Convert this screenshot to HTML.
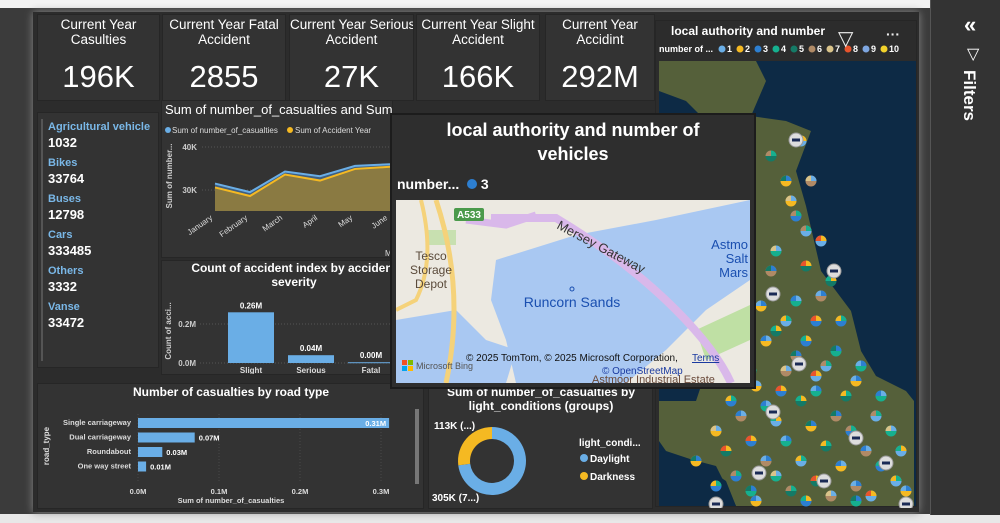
<!DOCTYPE html>
<html><head><meta charset="utf-8"><style>
*{box-sizing:border-box;margin:0;padding:0}
body{width:1000px;height:523px;overflow:hidden;background:#3b3b3b;font-family:"Liberation Sans",sans-serif;color:#fff;position:relative}
.abs{position:absolute}
.card{position:absolute;background:#333;border:1px solid #262626}
.kt{position:absolute;left:0;right:0;top:2px;text-align:center;font-size:13.5px;line-height:15px;color:#fff}
.kv{position:absolute;left:0;right:0;top:44px;text-align:center;font-size:31px;color:#fff}
.lbl{font-weight:bold;font-size:11px;color:#7ab8e8}
.val{font-weight:bold;font-size:13px;color:#fff;margin-bottom:6px}
</style></head><body>
<div class="abs" style="left:0;top:0;width:1000px;height:8px;background:#f2f2f2"></div>
<div class="abs" style="left:0;top:514px;width:1000px;height:9px;background:#e8e8e8"></div>
<div class="abs" style="left:33px;top:12px;width:886px;height:500px;background:#2c2c2c;box-shadow:0 0 8px #888"></div>
<div class="abs" style="left:930px;top:0;width:70px;height:515px;background:#333;border-left:1px solid #555">
  <div class="abs" style="left:33px;top:12px;font-size:22px;font-weight:bold">«</div>
  <div class="abs" style="left:36px;top:44px;font-size:16px">▽</div>
  <div class="abs" style="left:28px;top:70px;writing-mode:vertical-rl;font-size:17px;font-weight:bold">Filters</div>
</div>
<div class="card" style="left:37px;top:14px;width:123px;height:87px"><div class="kt">Current Year<br>Casulties</div><div class="kv">196K</div></div>
<div class="card" style="left:162px;top:14px;width:124px;height:87px"><div class="kt">Current Year Fatal<br>Accident</div><div class="kv">2855</div></div>
<div class="card" style="left:289px;top:14px;width:125px;height:87px;overflow:hidden"><div class="kt" style="white-space:nowrap">Current Year Serious<br>Accident</div><div class="kv">27K</div></div>
<div class="card" style="left:416px;top:14px;width:124px;height:87px"><div class="kt">Current Year Slight<br>Accident</div><div class="kv">166K</div></div>
<div class="card" style="left:545px;top:14px;width:110px;height:87px"><div class="kt">Current Year<br>Accidint</div><div class="kv">292M</div></div>
<div class="card" style="left:37px;top:112px;width:122px;height:256px">
 <div class="abs" style="left:3px;top:6px;width:2px;height:242px;background:#555"></div>
 <div class="abs" style="left:10px;top:7px;line-height:15px">
  <div class="lbl">Agricultural vehicle</div><div class="val">1032</div>
  <div class="lbl">Bikes</div><div class="val">33764</div>
  <div class="lbl">Buses</div><div class="val">12798</div>
  <div class="lbl">Cars</div><div class="val">333485</div>
  <div class="lbl">Others</div><div class="val">3332</div>
  <div class="lbl">Vanse</div><div class="val">33472</div>
 </div>
</div>
<div class="card" style="left:161px;top:100px;width:232px;height:158px;overflow:hidden">
 <svg width="232" height="158" id="areaSvg"></svg>
</div>
<div class="card" style="left:161px;top:260px;width:232px;height:115px;overflow:hidden">
 <svg width="232" height="115" id="sevSvg"></svg>
</div>
<div class="card" style="left:37px;top:383px;width:387px;height:126px">
 <svg width="387" height="126" id="roadSvg"></svg>
</div>
<div class="card" style="left:428px;top:383px;width:225px;height:126px">
 <svg width="225" height="126" id="donutSvg"></svg>
</div>
<div class="card" style="left:655px;top:20px;width:262px;height:487px;background:#2c2c2c">
 <svg width="262" height="487" id="mapSvg"></svg>
</div>
<div class="abs" style="left:390px;top:113px;width:366px;height:276px;background:#2e2e2e;border:2px solid #1c1c1c">
 <div class="abs" style="left:0;right:0;top:3px;text-align:center;font-weight:bold;font-size:18px;line-height:24px">local authority and number of<br>vehicles</div>
 <div class="abs" style="left:5px;top:61px;font-weight:bold;font-size:14px">number...&nbsp; <span style="display:inline-block;width:10px;height:10px;border-radius:50%;background:#2d7fd1"></span> 3</div>
 <svg class="abs" style="left:4px;top:85px" width="354" height="183">
  <rect width="354" height="183" fill="#ece9e1"/>
  <path d="M0,120 L60,110 L90,140 L120,150 L110,183 L0,183Z" fill="#a9c8f2"/>
  <path d="M100,60 L180,35 L260,20 L354,0 L354,80 L310,110 L270,150 L230,183 L120,183 L110,140 L95,100Z" fill="#a9c8f2"/>
  <path d="M300,130 L354,105 L354,140 L310,160Z" fill="#bfe0a4"/>
  <path d="M30,30 L60,30 L60,45 L30,45Z" fill="#c8e0b0"/>
  <path d="M25,0 Q40,60 20,100 L0,110" stroke="#f5d27a" stroke-width="4" fill="none"/>
  <path d="M40,0 Q70,90 50,183" stroke="#f5d27a" stroke-width="5" fill="none"/>
  <path d="M70,20 L110,25 L140,15" stroke="#d9b8ea" stroke-width="7" fill="none"/>
  <path d="M95,18 L160,18 Q230,60 280,110 Q320,150 335,183" stroke="#d9b8ea" stroke-width="8" fill="none"/>
  <rect x="58" y="8" width="30" height="13" rx="2" fill="#4b9a4b"/>
  <text x="73" y="18" font-size="10" fill="#fff" text-anchor="middle" font-weight="bold">A533</text>
  <text x="160" y="28" font-size="13" fill="#333" transform="rotate(28 160 28)">Mersey Gateway</text>
  <text x="35" y="60" font-size="12" fill="#5a4a3a" text-anchor="middle">Tesco</text>
  <text x="35" y="74" font-size="12" fill="#5a4a3a" text-anchor="middle">Storage</text>
  <text x="35" y="88" font-size="12" fill="#5a4a3a" text-anchor="middle">Depot</text>
  <text x="176" y="107" font-size="14" fill="#1a4fb0" text-anchor="middle">Runcorn Sands</text>
  <circle cx="176" cy="89" r="2" fill="none" stroke="#1a4fb0"/>
  <text x="352" y="49" font-size="13" fill="#1a4fb0" text-anchor="end">Astmo</text>
  <text x="352" y="63" font-size="13" fill="#1a4fb0" text-anchor="end">Salt</text>
  <text x="352" y="77" font-size="13" fill="#1a4fb0" text-anchor="end">Mars</text>
  <text x="70" y="161" font-size="10" fill="#111">© 2025 TomTom, © 2025 Microsoft Corporation,</text>
  <text x="296" y="161" font-size="10" fill="#1a3aa0" text-decoration="underline">Terms</text>
  <text x="206" y="174" font-size="10" fill="#1a3aa0">© OpenStreetMap</text>
  <text x="196" y="183" font-size="11" fill="#6a4a3a">Astmoor Industrial Estate</text>
  <rect x="6" y="160" width="5" height="5" fill="#f25022"/><rect x="12" y="160" width="5" height="5" fill="#7fba00"/>
  <rect x="6" y="166" width="5" height="5" fill="#00a4ef"/><rect x="12" y="166" width="5" height="5" fill="#ffb900"/>
  <text x="20" y="169" font-size="9" fill="#555">Microsoft Bing</text>
 </svg>
</div>
<script>
const NS="http://www.w3.org/2000/svg";
function mk(p,t,a,txt){const e=document.createElementNS(NS,t);for(const k in a)e.setAttribute(k,a[k]);if(txt!==undefined)e.textContent=txt;p.appendChild(e);return e;}
const months=["January","February","March","April","May","June"];
const casualties=[31.5,29.5,34.3,33.2,35.6,36.0];
const accidentYear=[30.6,28.6,33.6,32.2,34.9,35.4];
const areaTicks=[30,40];
const severities=["Slight","Serious","Fatal"];
const severityCounts=[0.26,0.04,0.004];
const severityLabels=["0.26M","0.04M","0.00M"];
const sevTicks=[0,0.2];
const roadTypes=["Single carriageway","Dual carriageway","Roundabout","One way street"];
const roadValues=[0.31,0.07,0.03,0.01];
const roadLabels=["0.31M","0.07M","0.03M","0.01M"];
const roadTicks=[0,0.1,0.2,0.3];
const lightGroups=["Daylight","Darkness"];
const lightValues=[305,113];
const lightColors=["#6aaee6","#f5b922"];

(function(){
 const s=document.getElementById("areaSvg");
 mk(s,"text",{x:3,y:13,"font-size":13,fill:"#fff",},"Sum of number_of_casualties and Sum of Accident Year by Month Name");
 mk(s,"circle",{cx:6,cy:29,r:3,fill:"#6aaee6"});mk(s,"text",{x:10,y:32,"font-size":8,fill:"#ddd"},"Sum of number_of_casualties");
 mk(s,"circle",{cx:128,cy:29,r:3,fill:"#f5b922"});mk(s,"text",{x:133,y:32,"font-size":8,fill:"#ddd"},"Sum of Accident Year");
 const x=i=>53+i*35, y=v=>89-(v-30)*4.3;
 const base=110;
 areaTicks.forEach(t=>{mk(s,"line",{x1:40,x2:232,y1:y(t),y2:y(t),stroke:"#555","stroke-dasharray":"1 2"});
  mk(s,"text",{x:35,y:y(t)+3,"font-size":8,"font-weight":"bold",fill:"#ccc","text-anchor":"end"},t+"K");});
 let d1="M"+x(0)+","+base+casualties.map((v,i)=>" L"+x(i)+","+y(v)).join("")+" L"+x(5)+","+base+"Z";
 const a1=mk(s,"path",{d:d1,fill:"#3f5f80"});
 let d2="M"+x(0)+","+base+accidentYear.map((v,i)=>" L"+x(i)+","+y(v)).join("")+" L"+x(5)+","+base+"Z";
 const a2=mk(s,"path",{d:d2,fill:"#8a7a42"});
 mk(s,"polyline",{points:casualties.map((v,i)=>x(i)+","+y(v)).join(" "),fill:"none",stroke:"#6aaee6","stroke-width":2});
 mk(s,"polyline",{points:accidentYear.map((v,i)=>x(i)+","+y(v)).join(" "),fill:"none",stroke:"#f5b922","stroke-width":2});
 mk(s,"text",{x:10,y:75,"font-size":8,"font-weight":"bold",fill:"#ccc",transform:"rotate(-90 10 75)","text-anchor":"middle"},"Sum of number...");
 months.forEach((m,i)=>{const px=x(i)-2;const t=mk(s,"text",{x:px,y:118,"font-size":8,fill:"#ddd","text-anchor":"end",transform:"rotate(-35 "+px+" 118)"},m);});
 mk(s,"text",{x:223,y:155,"font-size":8,fill:"#ddd"},"M");
})();
(function(){
 const s=document.getElementById("sevSvg");
 mk(s,"text",{x:132,y:11,"font-size":12,"font-weight":"bold",fill:"#fff","text-anchor":"middle"},"Count of accident index by accident");
 mk(s,"text",{x:132,y:25,"font-size":12,"font-weight":"bold",fill:"#fff","text-anchor":"middle"},"severity");
 const y=v=>102-v*195, base=102;
 sevTicks.forEach(t=>{mk(s,"text",{x:34,y:y(t)+3,"font-size":8,"font-weight":"bold",fill:"#ccc","text-anchor":"end"},t.toFixed(1)+"M");
  mk(s,"line",{x1:38,x2:232,y1:y(t),y2:y(t),stroke:"#555","stroke-dasharray":"1 2"});});
 mk(s,"text",{x:9,y:70,"font-size":8,"font-weight":"bold",fill:"#ccc",transform:"rotate(-90 9 70)","text-anchor":"middle"},"Count of acci...");
 severities.forEach((c,i)=>{const cx=89+i*60;
  const r=mk(s,"rect",{x:cx-23,y:y(severityCounts[i]),width:46,height:Math.max(1,base-y(severityCounts[i])),fill:"#6aaee6"});
  
  mk(s,"text",{x:cx,y:y(severityCounts[i])-4,"font-size":8,"font-weight":"bold",fill:"#fff","text-anchor":"middle"},severityLabels[i]);
  mk(s,"text",{x:cx,y:112,"font-size":8,"font-weight":"bold",fill:"#ddd","text-anchor":"middle"},c);});
})();
(function(){
 const s=document.getElementById("roadSvg");
 mk(s,"text",{x:193,y:12,"font-size":12,"font-weight":"bold",fill:"#fff","text-anchor":"middle"},"Number of casualties by road type");
 const x=v=>100+v*810, y0=34;
 roadTicks.forEach(t=>{mk(s,"text",{x:x(t),y:110,"font-size":7.5,"font-weight":"bold",fill:"#ddd","text-anchor":"middle"},t.toFixed(1)+"M");
  mk(s,"line",{x1:x(t),x2:x(t),y1:30,y2:98,stroke:"#4a4a4a","stroke-dasharray":"1 2"});});
 mk(s,"text",{x:193,y:119,"font-size":7.5,"font-weight":"bold",fill:"#ddd","text-anchor":"middle"},"Sum of number_of_casualties");
 mk(s,"text",{x:11,y:62,"font-size":8,"font-weight":"bold",fill:"#ddd",transform:"rotate(-90 11 62)","text-anchor":"middle"},"road_type");
 roadTypes.forEach((r,i)=>{const yy=y0+i*14.5;
  mk(s,"text",{x:93,y:yy+7,"font-size":7.5,"font-weight":"bold",fill:"#ddd","text-anchor":"end"},r);
  const b=mk(s,"rect",{x:x(0),y:yy,width:x(roadValues[i])-x(0),height:10,fill:"#6aaee6"});
  
  const inside=i===0;
  mk(s,"text",{x:inside?x(roadValues[i])-3:x(roadValues[i])+4,y:yy+8,"font-size":7.5,"font-weight":"bold",fill:"#fff","text-anchor":inside?"end":"start"},roadLabels[i]);});
 mk(s,"rect",{x:377,y:25,width:4,height:75,fill:"#777"});
})();
(function(){
 const s=document.getElementById("donutSvg");
 mk(s,"text",{x:112,y:12,"font-size":12,"font-weight":"bold",fill:"#fff","text-anchor":"middle"},"Sum of number_of_casualties by");
 mk(s,"text",{x:112,y:26,"font-size":12,"font-weight":"bold",fill:"#fff","text-anchor":"middle"},"light_conditions (groups)");
 const cx=63,cy=77,R=34,r=22,tot=lightValues.reduce((a,b)=>a+b,0);
 let a=0;
 lightValues.forEach((v,i)=>{const a0=a,a1=a+v/tot*2*Math.PI;a=a1;
  const p=(ang,rad)=>[cx+rad*Math.sin(ang),cy-rad*Math.cos(ang)];
  const [x0,y0]=p(a0,R),[x1,y1]=p(a1,R),[x2,y2]=p(a1,r),[x3,y3]=p(a0,r);const lg=(a1-a0)>Math.PI?1:0;
  const e=mk(s,"path",{d:`M${x0},${y0} A${R},${R} 0 ${lg} 1 ${x1},${y1} L${x2},${y2} A${r},${r} 0 ${lg} 0 ${x3},${y3}Z`,fill:lightColors[i]});
  });
 mk(s,"text",{x:5,y:45,"font-size":10,"font-weight":"bold",fill:"#fff"},lightValues[1]+"K (...)");
 mk(s,"text",{x:3,y:117,"font-size":10,"font-weight":"bold",fill:"#fff"},lightValues[0]+"K (7...)");
 mk(s,"text",{x:150,y:62,"font-size":10,"font-weight":"bold",fill:"#fff"},"light_condi...");
 lightGroups.forEach((g,i)=>{mk(s,"circle",{cx:155,cy:74+i*18,r:4,fill:lightColors[i]});
  mk(s,"text",{x:161,y:78+i*18,"font-size":10,"font-weight":"bold",fill:"#fff"},g);});
})();
(function(){
 const s=document.getElementById("mapSvg");
 mk(s,"rect",{x:3,y:40,width:257,height:445,fill:"#0d2a45"});
 mk(s,"path",{d:"M3,40 L100,40 L110,60 L95,95 L130,100 L155,110 L140,150 L150,185 L165,250 L195,290 L205,330 L220,355 L250,370 L258,380 L258,485 L80,485 L70,460 L40,440 L10,430 L3,420 L3,380 L40,380 L50,350 L45,320 L20,300 L30,270 L60,240 L40,200 L60,170 L40,140 L60,110 L30,80 L3,70Z",fill:"#55603a"});
 mk(s,"path",{d:"M3,430 L60,445 L80,485 L3,485Z",fill:"#0d2a45"});
 mk(s,"text",{x:15,y:14,"font-size":12,"font-weight":"bold",fill:"#fff"},"local authority and number");
 mk(s,"text",{x:3,y:31,"font-size":9,"font-weight":"bold",fill:"#fff"},"number of ...");
 const lc=["#6aaee6","#f5b922","#2d7fd1","#16b08f","#157a66","#b08a66","#d9c38a","#e8542c","#7ea6e0","#f2d22b"];
 lc.forEach((c,i)=>{mk(s,"circle",{cx:66+i*18,cy:28,r:3.5,fill:c});mk(s,"text",{x:71+i*18,y:31,"font-size":9,"font-weight":"bold",fill:"#fff"},i+1);});
 mk(s,"text",{x:182,y:24,"font-size":20,fill:"#eee"},"▽");
 mk(s,"text",{x:230,y:18,"font-size":14,"font-weight":"bold",fill:"#eee"},"···");
 const pts=[[145,120],[130,160],[140,195],[120,230],[150,245],[165,275],[130,300],[110,320],[150,320],[180,330],[95,350],[130,350],[160,355],[200,360],[75,380],[110,385],[145,380],[180,395],[220,395],[60,410],[95,420],[130,420],[170,425],[210,430],[245,430],[40,440],[80,455],[120,455],[160,460],[200,465],[240,460],[100,480],[150,480],[200,480],[115,135],[155,160],[165,220],[105,285],[185,300],[225,375],
 [120,310],[140,335],[170,345],[100,365],[125,370],[160,370],[190,375],[85,395],[120,400],[155,405],[195,410],[235,410],[70,430],[110,440],[145,440],[185,445],[225,445],[95,470],[135,470],[175,475],[215,475],[250,470],[60,465],[140,280],[175,260],[115,250],[150,210],[135,180],[160,300],[205,345]];
 pts.forEach(([x,y],i)=>{mk(s,"circle",{cx:x,cy:y,r:5.5,fill:lc[i%6]});mk(s,"path",{d:`M${x},${y} L${x},${y-5.5} A5.5,5.5 0 0 1 ${x+5.5},${y}Z`,fill:lc[(i+1)%4]});mk(s,"path",{d:`M${x},${y} L${x-5.5},${y} A5.5,5.5 0 0 1 ${x},${y-5.5}Z`,fill:lc[(i+3)%8]});});
 [[140,119],[117,273],[86,317],[178,250],[143,343],[117,391],[103,452],[200,417],[230,442],[168,460],[250,483],[60,483]].forEach(([x,y])=>{mk(s,"circle",{cx:x,cy:y,r:7,fill:"#ddd",stroke:"#999"});mk(s,"rect",{x:x-4,y:y-1.5,width:8,height:3,fill:"#1a2a55"});});
})();
</script>
</body></html>
